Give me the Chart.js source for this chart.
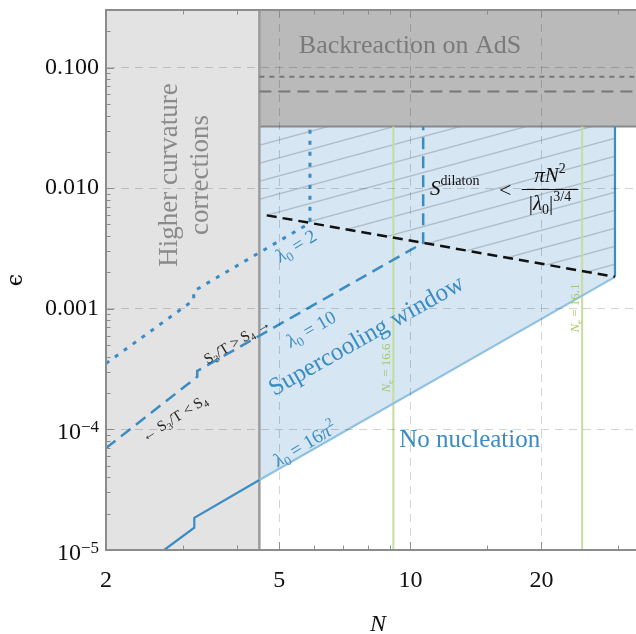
<!DOCTYPE html>
<html>
<head>
<meta charset="utf-8">
<script src="https://cdn.jsdelivr.net/npm/chart.js@4.4.1/dist/chart.umd.min.js"></script>
<style>
html, body { margin: 0; padding: 0; background: #fff; overflow: hidden; }
#wrap { width: 636px; height: 634px; overflow: hidden; }
</style>
</head>
<body>
<div id="wrap"><canvas id="myChart" width="650" height="634"></canvas></div>
<script>
// axis ranges and ticks (the frame runs a little past the right edge of the picture)
var xRange = [2, 35.5];
var yRange = [1e-5, 0.3];
var xTickValues = [2, 5, 10, 20];
var xTickLabels = ['2', '5', '10', '20'];
var xTickAll = [2, 3, 4, 5, 6, 7, 8, 9, 10, 15, 20, 30];
var yTickValues = [1e-5, 1e-4, 0.001, 0.01, 0.1];
var yTickLabels = ['10^-5', '10^-4', '0.001', '0.010', '0.100'];

// region boundaries
var nCurvature = 4.5;
var epsBackreaction = 0.0324;
var epsBackDotted = 0.084;
var epsBackDashed = 0.0634;
var nWindowEnd = 29.5;

// lambda_0 = 2 (dotted), 10 (dashed), 16 pi^2 (solid)
var lam2N = [2, 3.18, 3.18, 5.88, 5.88];
var lam2Eps = [3.52e-4, 1.18e-3, 1.40e-3, 5.15e-3, 0.0324];
var lam10N = [2, 3.24, 3.24, 10.7, 10.7];
var lam10Eps = [7.0e-5, 2.73e-4, 3.05e-4, 3.52e-3, 0.0324];
var lamMaxN = [2.72, 3.19, 3.19, 4.5];
var lamMaxEps = [1e-5, 1.53e-5, 1.85e-5, 3.8e-5];
var windowLowN = [4.5, 29.5];
var windowLowEps = [3.8e-5, 1.84e-3];
var windowRightEps = [1.84e-3, 0.0324];

// S_dilaton bound (black dashed) and the hatched part above it
var dilatonN = [4.68, 5.88, 10.7, 29.5];
var dilatonEps = [5.95e-3, 5.15e-3, 3.52e-3, 1.84e-3];
var hatchLowN = [4.5, 4.68, 5.88, 10.7, 29.5];
var hatchLowEps = [6.1e-3, 5.95e-3, 5.15e-3, 3.52e-3, 1.84e-3];

// N_e lines
var neN = [9.14, 24.8];
var neLabels = ['16.6', '16.1'];

var serif = "'Liberation Serif', 'DejaVu Serif', serif";
var blue = '#3a8cc4';
var lightBlue = '#8fc1e3';
var blueFill = '#d6e6f2';
var green = '#c5dd9f';
var greenText = '#a6c868';
var frame = '#8c8c8c';

function pts(xs, ys) {
    return xs.map(function(x, i) { return {x: x, y: ys[i]}; });
}
function isMajorY(v) {
    var l = Math.log10(v);
    return Math.abs(l - Math.round(l)) < 1e-6;
}
function yLabelIndex(v) {
    for (var i = 0; i < yTickValues.length; i++) {
        if (Math.abs(v / yTickValues[i] - 1) < 1e-6) return i;
    }
    return -1;
}

var yTickAll = [];
for (var n = -5; n <= -1; n++) {
    for (var k = 1; k <= 9; k++) {
        var v = k * Math.pow(10, n);
        if (v <= yRange[1] * 1.0001) yTickAll.push(v);
    }
}

function makeHatch() {
    var c = document.createElement('canvas');
    c.width = 66; c.height = 18;
    var g = c.getContext('2d');
    g.strokeStyle = 'rgba(140,150,162,0.5)';
    g.lineWidth = 1.3;
    [-18, 0, 18].forEach(function(o) {
        g.beginPath(); g.moveTo(0, 18 + o); g.lineTo(66, o); g.stroke();
    });
    return document.getElementById('myChart').getContext('2d').createPattern(c, 'repeat');
}

function line(data, color, width, dash) {
    return {data: data, borderColor: color, borderWidth: width, borderDash: dash || [],
            fill: false, pointRadius: 0, borderCapStyle: 'butt'};
}

var datasets = [
    line(pts(dilatonN, dilatonEps), '#111', 2.5, [10, 6]),                      // 0
    line(pts(lam2N, lam2Eps), blue, 3, [4, 7]),                                  // 1
    line(pts(lam10N, lam10Eps), blue, 2.5, [12, 7]),                             // 2
    line(pts(lamMaxN, lamMaxEps), blue, 2.2),                                    // 3
    line(pts([nWindowEnd, nWindowEnd], windowRightEps), blue, 2.2),              // 4
    line(pts(windowLowN, windowLowEps), lightBlue, 2.2),                         // 5
    line(pts([neN[0], neN[0]], [yRange[0], epsBackreaction]), green, 2),         // 6
    line(pts([neN[1], neN[1]], [yRange[0], epsBackreaction]), green, 2),         // 7
    line(pts([nCurvature, xRange[1]], [epsBackDotted, epsBackDotted]), '#777', 2, [5, 5]),   // 8
    line(pts([nCurvature, xRange[1]], [epsBackDashed, epsBackDashed]), '#777', 2, [12, 7]),  // 9
    line(pts([nCurvature, nCurvature], [yRange[0], yRange[1]]), '#9c9c9c', 2.5), // 10
    {data: pts([nCurvature, xRange[1]], [epsBackreaction, epsBackreaction]),     // 11 backreaction
     borderColor: '#8a8a8a', borderWidth: 2, backgroundColor: '#bababa', fill: 'end', pointRadius: 0},
    {data: pts([nCurvature, nWindowEnd], [epsBackreaction, epsBackreaction]),    // 12 hatch
     borderWidth: 0, backgroundColor: makeHatch(), fill: 13, pointRadius: 0},
    {data: pts(hatchLowN, hatchLowEps), borderWidth: 0, fill: false, pointRadius: 0},   // 13
    {data: pts([nCurvature, nWindowEnd], [epsBackreaction, epsBackreaction]),    // 14 window
     borderWidth: 0, backgroundColor: blueFill, fill: 5, pointRadius: 0},
    {data: pts([xRange[0], nCurvature], [yRange[1], yRange[1]]),                 // 15 curvature
     borderWidth: 0, backgroundColor: '#e3e3e3', fill: 'start', pointRadius: 0}
];

function rich(ctx, parts, x, y, deg, color, align, off) {
    ctx.save();
    ctx.translate(x, y);
    ctx.rotate(deg * Math.PI / 180);
    ctx.translate(0, off || 0);
    ctx.fillStyle = color;
    ctx.textBaseline = 'alphabetic';
    var total = 0;
    parts.forEach(function(p) {
        ctx.font = (p[2] ? 'italic ' : '') + p[1] + 'px ' + serif;
        p.w = ctx.measureText(p[0]).width;
        total += p.w;
    });
    var cx = align === 'left' ? 0 : (align === 'right' ? -total : -total / 2);
    parts.forEach(function(p) {
        ctx.font = (p[2] ? 'italic ' : '') + p[1] + 'px ' + serif;
        ctx.fillText(p[0], cx, p[3] || 0);
        cx += p.w;
    });
    ctx.restore();
}

var decorations = {
    id: 'decorations',
    afterDraw: function(chart) {
        var ctx = chart.ctx, a = chart.chartArea;
        var xs = chart.scales.x, ys = chart.scales.y;
        ctx.save();
        // top frame line
        ctx.strokeStyle = frame; ctx.lineWidth = 2;
        ctx.beginPath(); ctx.moveTo(a.left, a.top); ctx.lineTo(a.right, a.top); ctx.stroke();
        // inward ticks
        ctx.lineWidth = 1;
        xs.ticks.forEach(function(t) {
            var px = Math.round(xs.getPixelForValue(t.value)) + 0.5;
            var len = xTickValues.indexOf(t.value) >= 0 ? 8 : 4.5;
            ctx.beginPath();
            ctx.moveTo(px, a.bottom); ctx.lineTo(px, a.bottom - len);
            ctx.moveTo(px, a.top); ctx.lineTo(px, a.top + len);
            ctx.stroke();
        });
        ys.ticks.forEach(function(t) {
            var py = Math.round(ys.getPixelForValue(t.value)) + 0.5;
            var len = isMajorY(t.value) ? 8 : 4.5;
            ctx.beginPath(); ctx.moveTo(a.left, py); ctx.lineTo(a.left + len, py); ctx.stroke();
        });
        ctx.restore();

        // power-of-ten tick labels with raised exponents
        yTickValues.forEach(function(v, i) {
            var lab = yTickLabels[i];
            if (lab.indexOf('^') < 0) return;
            var bits = lab.split('^');
            var py = ys.getPixelForValue(v);
            rich(ctx, [[bits[0], 24], [bits[1].replace('-', '\u2212'), 17, false, -7.5]],
                 a.left - 7, py + 10, 0, '#111', 'right');
        });

        // region labels
        rich(ctx, [['Higher curvature', 27]], 177, 175, -90, '#8a8a8a');
        rich(ctx, [['corrections', 27]], 208, 175, -90, '#8a8a8a');
        rich(ctx, [['Backreaction on AdS', 26]], 410, 52.7, 0, '#7a7a7a');
        rich(ctx, [['No nucleation', 25]], 399.3, 446.7, 0, blue, 'left');
        rich(ctx, [['Supercooling window', 25]], 366, 335, -29.5, blue, 'center', 8);

        // lambda labels
        rich(ctx, [['\u03BB', 19, true], ['0', 13, false, 4], [' = 2', 19]], 296, 246, -32, blue, 'center', 6);
        rich(ctx, [['\u03BB', 19, true], ['0', 13, false, 4], [' = 10', 19]], 311, 329, -30, blue, 'center', 6);
        rich(ctx, [['\u03BB', 19, true], ['0', 13, false, 4], [' = 16', 19], ['\u03C0', 19, true], ['2', 13, false, -8]],
             305, 444, -31, blue, 'center', 6);

        // S3/T vs S4
        rich(ctx, [['S', 15], ['3', 10, false, 3], ['/T > S', 15], ['4', 10, false, 3], [' \u2192', 15]],
             237, 341, -31, '#222', 'center', 5);
        rich(ctx, [['\u2190 S', 15], ['3', 10, false, 3], ['/T < S', 15], ['4', 10, false, 3]],
             174, 418, -32, '#222', 'center', 5);

        // N_e labels
        [0, 1].forEach(function(i) {
            var px = xs.getPixelForValue(neN[i]) - 3;
            var py = i === 0 ? 368 : 308;
            rich(ctx, [['N', 13, true], ['e', 9, false, 3], [' = ' + neLabels[i], 13]], px, py, -90, greenText);
        });

        // S^dilaton < pi N^2 / |lambda_0|^(3/4)
        rich(ctx, [['S', 21, true], ['dilaton', 14, false, -10]], 430, 195, 0, '#111', 'left');
        rich(ctx, [['<', 22]], 499, 197, 0, '#111', 'left');
        ctx.save();
        ctx.strokeStyle = '#111'; ctx.lineWidth = 1;
        ctx.beginPath(); ctx.moveTo(521.7, 189.5); ctx.lineTo(578.3, 189.5); ctx.stroke();
        ctx.restore();
        rich(ctx, [['\u03C0', 21, true], ['N', 21, true], ['2', 14, false, -9]], 550, 182, 0, '#111');
        rich(ctx, [['|', 21], ['\u03BB', 21, true], ['0', 14, false, 4], ['|', 21], ['3/4', 14, false, -9]],
             550, 210, 0, '#111');
    }
};

var config = {
    type: 'line',
    data: { datasets: datasets },
    options: {
        responsive: false,
        animation: false,
        devicePixelRatio: 1,
        layout: { padding: { top: 10, right: 0, left: 0, bottom: 0 } },
        plugins: { legend: { display: false }, tooltip: { enabled: false } },
        elements: { line: { tension: 0 }, point: { radius: 0 } },
        scales: {
            x: {
                type: 'logarithmic',
                min: xRange[0], max: xRange[1],
                afterBuildTicks: function(s) { s.ticks = xTickAll.map(function(v) { return {value: v}; }); },
                afterFit: function(s) { s.height = 84; s.paddingLeft = 0; s.paddingRight = 0; },
                ticks: {
                    autoSkip: false, maxRotation: 0, minRotation: 0, padding: 16, color: '#111',
                    font: { family: serif, size: 24 },
                    callback: function(v) {
                        var i = xTickValues.indexOf(v);
                        return i >= 0 ? xTickLabels[i] : '';
                    }
                },
                grid: {
                    z: 1, drawTicks: false,
                    color: function(c) {
                        var v = c.tick && c.tick.value;
                        return (xTickValues.indexOf(v) > 0) ? 'rgba(0,0,0,0.17)' : 'rgba(0,0,0,0)';
                    }
                },
                border: { z: 2, color: frame, width: 2, dash: [8, 6] },
                title: { display: true, text: 'N', color: '#111', padding: 0,
                         font: { family: serif, size: 24, style: 'italic', lineHeight: 0.75 } }
            },
            y: {
                type: 'logarithmic',
                min: yRange[0], max: yRange[1],
                afterBuildTicks: function(s) { s.ticks = yTickAll.map(function(v) { return {value: v}; }); },
                afterFit: function(s) { s.width = 106; s.paddingTop = 0; s.paddingBottom = 0; },
                ticks: {
                    autoSkip: false, padding: 7, color: '#111',
                    font: { family: serif, size: 24 },
                    callback: function(v) {
                        var i = yLabelIndex(v);
                        if (i < 0 || yTickLabels[i].indexOf('^') >= 0) return '';
                        return yTickLabels[i];
                    }
                },
                grid: {
                    z: 1, drawTicks: false,
                    color: function(c) {
                        var v = c.tick && c.tick.value;
                        return (v && isMajorY(v) && v > yRange[0] * 1.01) ? 'rgba(0,0,0,0.17)' : 'rgba(0,0,0,0)';
                    }
                },
                border: { z: 2, color: frame, width: 2, dash: [8, 6] },
                title: { display: true, text: '\u03F5', color: '#111', padding: { top: 3, bottom: 0 },
                         font: { family: "'DejaVu Serif', serif", size: 22 } }
            }
        }
    },
    plugins: [decorations]
};

window.onload = function() {
    var ctx = document.getElementById('myChart').getContext('2d');
    window.myChart = new Chart(ctx, config);
};
</script>
</body>
</html>
